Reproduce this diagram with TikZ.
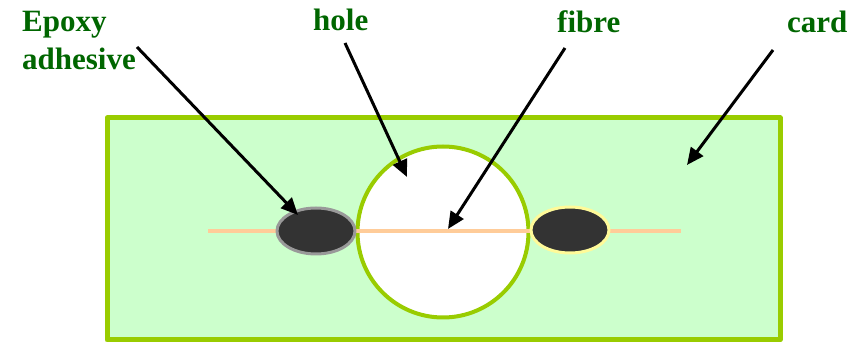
\documentclass[tikz,border=0pt]{standalone}
\usepackage{fontspec}
\setmainfont{Liberation Serif}
\usetikzlibrary{arrows.meta,shapes.geometric}
\definecolor{cardfill}{HTML}{CCFFCC}
\definecolor{cardline}{HTML}{99CC00}
\definecolor{fibrecol}{HTML}{FFCC99}
\definecolor{glue}{HTML}{333333}
\definecolor{labelgreen}{HTML}{006600}
\begin{document}
\begin{tikzpicture}[x=1pt,y=-1pt,line join=round,
  lbl/.style={font=\fontsize{31}{38}\selectfont\bfseries,text=labelgreen,inner sep=0pt,anchor=base west},
  blob/.style={ellipse,fill=glue,line width=3pt,minimum width=78pt,minimum height=46pt,inner sep=0pt},
  ptr/.style={line width=3pt,-{Triangle[length=17pt,width=15pt]}}]
  \useasboundingbox (0,0) rectangle (863,344);
  \draw[line width=5pt,cardline,fill=cardfill] (107,118) rectangle (780,340);
  \node[circle,draw=cardline,fill=white,line width=4pt,minimum size=171pt,inner sep=0pt] (hole) at (443,232) {};
  \coordinate (fA) at (208,231); \coordinate (fB) at (681,231);
  \draw[line width=4.5pt,fibrecol] (fA) -- (fB);
  \node[blob,draw=black!40] (glueL) at (316,231) {};
  \node[blob,draw=yellow!40] (glueR) at (570,230) {};
  % labels
  \node[lbl] (epoxy) at (22,32) {Epoxy};
  \node[lbl] (adhesive) at (22,70) {adhesive};
  \node[lbl] (holeT) at (313,31) {hole};
  \node[lbl] (fibreT) at (557,33) {fibre};
  \node[lbl] (cardT) at (787,33) {card};
  % arrows
  \coordinate (tE) at (137,47); \coordinate (hE) at (298,215);
  \coordinate (tH) at (345,43); \coordinate (hH) at (407,177);
  \coordinate (tF) at (565,48); \coordinate (hF) at (448,229);
  \coordinate (tC) at (773,50); \coordinate (hC) at (687,165);
  \draw[ptr] (tE) -- (hE); \draw[ptr] (tH) -- (hH);
  \draw[ptr] (tF) -- (hF); \draw[ptr] (tC) -- (hC);
\end{tikzpicture}
\end{document}
